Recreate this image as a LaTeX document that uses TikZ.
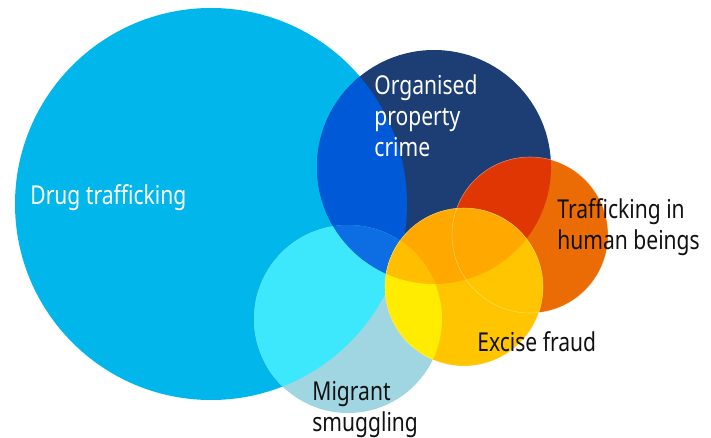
\documentclass[tikz,border=0pt]{standalone}
\usepackage{fontspec}
\setmainfont[FakeStretch=0.81]{Noto Sans}
\usepackage{tikz}
\definecolor{drugblue}{HTML}{00B6EB}
\definecolor{opcnavy}{HTML}{1C3E74}
\definecolor{drugopc}{HTML}{0059D6}
\definecolor{migblue}{HTML}{A0D5E2}
\definecolor{drugmig}{HTML}{3DE8FD}
\definecolor{opcmig}{HTML}{0C6EE2}
\definecolor{thborange}{HTML}{EB6C05}
\definecolor{opcthb}{HTML}{DF3604}
\definecolor{excamber}{HTML}{FFC500}
\definecolor{excopc}{HTML}{FFA900}
\definecolor{excmig}{HTML}{FFEC00}
\definecolor{excopcmig}{HTML}{FFBE00}
\definecolor{darktext}{HTML}{111111}

\begin{document}
\begin{tikzpicture}[x=0.5pt,y=-0.5pt,
  lbl/.style={anchor=north west,align=left,inner sep=0pt,
    font=\fontsize{13}{15.5}\selectfont},
  rim/.style={draw=white,draw opacity=0.35,line width=0.3pt}]
\useasboundingbox (0,0) rectangle (711,438);
% circle centres
\coordinate (drug) at (211,204);
\coordinate (opc) at (434,167);
\coordinate (mig) at (348,319);
\coordinate (thb) at (530,235);
\coordinate (exc) at (464,287);

% base discs
\fill[drugblue] (drug) circle[radius=196];
\fill[migblue] (mig) circle[radius=94];
\fill[opcnavy] (opc) circle[radius=117];
\fill[thborange] (thb) circle[radius=78];

% overlaps
\begin{scope}
  \clip (drug) circle[radius=196];
  \fill[drugopc] (opc) circle[radius=117];
  \fill[drugmig] (mig) circle[radius=94];
\end{scope}
\begin{scope}
  \clip (opc) circle[radius=117];
  \fill[opcmig] (mig) circle[radius=94];
  \fill[opcthb] (thb) circle[radius=78];
\end{scope}

% excise fraud on top
\fill[excamber] (exc) circle[radius=79];
\begin{scope}
  \clip (exc) circle[radius=79];
  \fill[excopc] (opc) circle[radius=117];
  \fill[excmig] (mig) circle[radius=94];
  \clip (opc) circle[radius=117];
  \fill[excopcmig] (mig) circle[radius=94];
\end{scope}
\path[rim] (thb) circle[radius=78];
\path[rim] (exc) circle[radius=79];

% labels
\node[lbl,text=white] (drugtxt) at (30,184) {Drug trafficking};
\node[lbl,text=white] (opctxt) at (374,74) {Organised\\property\\crime};
\node[lbl,text=darktext] (thbtxt) at (557,198) {Trafficking in\\human beings};
\node[lbl,text=darktext] (exctxt) at (477,331) {Excise fraud};
\node[lbl,text=darktext] (migtxt) at (312,381) {Migrant\\smuggling};
\end{tikzpicture}
\end{document}
